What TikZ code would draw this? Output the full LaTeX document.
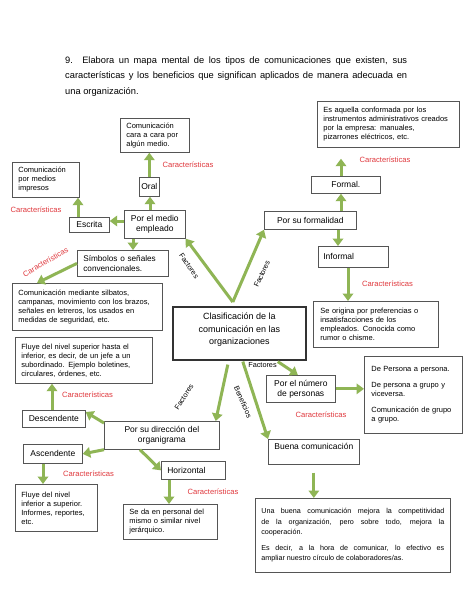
\documentclass[tikz,border=0pt]{standalone}
\usepackage{fontspec}
\setmainfont{Liberation Sans}
\usetikzlibrary{arrows.meta}
\definecolor{garrow}{HTML}{8FB555}
\definecolor{boxc}{HTML}{555555}
\definecolor{centc}{HTML}{333333}
\definecolor{redc}{HTML}{E0393E}
\begin{document}
\begin{tikzpicture}[x=1pt,y=-1pt,
  box/.style={draw=boxc, line width=0.7pt, fill=white, anchor=north west, inner xsep=6pt, inner ysep=0pt, align=left, font=\fontsize{7.5}{9}\selectfont},
  cat/.style={draw=boxc, line width=0.7pt, fill=white, anchor=north west, inner sep=0pt, align=center, font=\fontsize{8.5}{10}\selectfont},
  link/.style={draw=garrow, line width=3pt, -{Triangle[length=7.5pt,width=10.5pt]}},
  carac/.style={text=redc, font=\fontsize{7.6}{9}\selectfont, inner sep=0pt},
  flab/.style={font=\fontsize{7.3}{9}\selectfont, inner sep=0pt},
]
\useasboundingbox (0,0) rectangle (474,613);
\fill[white] (0,0) rectangle (474,613);

% title
\node[anchor=north west, inner sep=0pt, text width=342pt, align=justify, font=\fontsize{9.3}{15.5}\selectfont] (title) at (65,56.5) {9. Elabora un mapa mental de los tipos de comunicaciones que existen, sus\linebreak características y los beneficios que significan aplicados de manera adecuada en\linebreak una organización.};

% centre
\node[draw=centc, line width=1.6pt, fill=white, anchor=north west, inner sep=0pt, minimum width=133pt, minimum height=53pt, align=center, font=\fontsize{9}{12.5}\selectfont] (clasif) at (172,306) {Clasificación de la\\comunicación en las\\organizaciones\\[-4pt]\mbox{}};

% left upper branch
\node[box, text width=57pt, minimum height=34pt] (oralbox) at (120,118) {\mbox{Comunicación}\\\mbox{cara a cara por}\\\mbox{algún medio.}};
\node[cat, minimum width=20pt, minimum height=19pt] (oral) at (139,177) {Oral};
\node[box, text width=55pt, minimum height=35pt] (escbox) at (12,162) {\mbox{Comunicación}\\\mbox{por medios}\\\mbox{impresos}};
\node[cat, minimum width=40pt, minimum height=15pt] (escrita) at (69,217) {Escrita};
\node[cat, minimum width=61pt, minimum height=28pt] (medio) at (124,210) {Por el medio\\empleado};
\node[box, font=\fontsize{8.2}{10}\selectfont, text width=79pt, minimum height=26pt] (simb) at (77,250) {\mbox{Símbolos o señales}\\\mbox{convencionales.}};
\node[box, text width=138pt, minimum height=47pt] (simbdesc) at (12,283) {\mbox{Comunicación mediante silbatos,}\\\mbox{campanas, movimiento con los brazos,}\\\mbox{señales en letreros, los usados en}\\\mbox{medidas de seguridad, etc.}};

% left lower branch
\node[box, text width=125pt, minimum height=46pt] (descdesc) at (15,337) {\mbox{Fluye del nivel superior hasta el}\\\mbox{inferior, es decir, de un jefe a un}\\\mbox{subordinado. Ejemplo boletines,}\\\mbox{circulares, órdenes, etc.}};
\node[cat, minimum width=63pt, minimum height=17pt] (desc) at (22,410) {Descendente};
\node[cat, minimum width=115pt, minimum height=28pt] (dir) at (104,421) {Por su dirección del\\organigrama};
\node[cat, minimum width=59pt, minimum height=19pt] (asc) at (23,444) {Ascendente};
\node[box, text width=70pt, minimum height=47pt] (ascdesc) at (15,484) {\mbox{Fluye del nivel}\\\mbox{inferior a superior.}\\\mbox{Informes, reportes,}\\\mbox{etc.}};
\node[box, font=\fontsize{8.5}{10}\selectfont, text width=52pt, minimum height=18pt] (horiz) at (161,461) {Horizontal};
\node[box, text width=82pt, minimum height=35pt] (horizdesc) at (123,504) {\mbox{Se da en personal del}\\\mbox{mismo o similar nivel}\\\mbox{jerárquico.}};

% right upper branch
\node[box, text width=130pt, minimum height=46pt] (formaldesc) at (317,101) {\mbox{Es aquella conformada por los}\\\mbox{instrumentos administrativos creados}\\\mbox{por la empresa: manuales,}\\\mbox{pizarrones eléctricos, etc.}};
\node[cat, minimum width=69pt, minimum height=17pt] (formal) at (311,176) {Formal.};
\node[cat, minimum width=92pt, minimum height=18pt] (formalidad) at (264,211) {Por su formalidad};
\node[box, font=\fontsize{8.5}{10}\selectfont, inner xsep=5pt, text width=60pt, minimum height=21pt] (informal) at (318,246) {Informal};
\node[box, inner xsep=7pt, text width=111pt, minimum height=46pt] (infdesc) at (313,301) {\mbox{Se origina por preferencias o}\\\mbox{insatisfacciones de los}\\\mbox{empleados. Conocida como}\\\mbox{rumor o chisme.}};

% right lower branch
\node[cat, minimum width=69pt, minimum height=27pt] (num) at (266,375) {Por el número\\de personas};
\node[box, inner xsep=7pt, text width=84pt, minimum height=77pt] (numdesc) at (364,356) {\mbox{De Persona a persona.}\\[7.5pt]\mbox{De persona a grupo y}\\\mbox{viceversa.}\\[7pt]\mbox{Comunicación de grupo}\\\mbox{a grupo.}};
\node[cat, minimum width=91pt, text height=10.5pt, text depth=14.5pt] (buena) at (268,439) {Buena comunicación};
\node[box, font=\fontsize{7.2}{10.5}\selectfont, align=justify, text width=183pt, minimum height=74pt] (bigbox) at (255,498) {Una buena comunicación mejora la competitividad\linebreak de la organización, pero sobre todo, mejora la\linebreak cooperación.\par\vspace{5pt}Es decir, a la hora de comunicar, lo efectivo es\linebreak ampliar nuestro círculo de colaboradores/as.\par\vspace*{9pt}};

% labels
\node[carac] (c1) at (188,165) {Características};
\node[carac] (c2) at (36,210) {Características};
\node[carac, rotate=30] (c3) at (45.5,262) {Características};
\node[carac] (c4) at (87.5,395) {Características};
\node[carac] (c5) at (88.5,474) {Características};
\node[carac] (c6) at (213,492) {Características};
\node[carac] (c7) at (385,160) {Características};
\node[carac] (c8) at (387.5,284) {Características};
\node[carac] (c9) at (321,415) {Características};

\node[flab, rotate=-55] (f1) at (189,266) {Factores};
\node[flab, rotate=65] (f2) at (262,274) {Factores};
\node[flab] (f3) at (262.5,365) {Factores};
\node[flab, rotate=57] (f4) at (184,397) {Factores};
\node[flab, rotate=-66] (f5) at (243,402) {Beneficios};

% helper coordinates
\coordinate (ap) at ([xshift=-6.5pt,yshift=4pt]clasif.north);
\coordinate (m1) at ([xshift=26pt]medio.north west);
\coordinate (o1) at (oral.north);
\coordinate (m2) at ([yshift=-11pt]medio.north west);
\coordinate (e1) at ([xshift=9pt]escrita.north west);
\coordinate (m3) at ([xshift=9pt]medio.south west);
\coordinate (fo1) at ([xshift=77pt]formalidad.north west);
\coordinate (fo2) at ([xshift=74pt]formalidad.south west);
\coordinate (fm1) at ([xshift=30pt]formal.north west);
\coordinate (in1) at ([xshift=30pt]informal.south west);
\coordinate (d1) at ([xshift=30pt]desc.north west);
\coordinate (a1) at ([xshift=20pt]asc.south west);
\coordinate (h1) at ([xshift=8pt]horiz.south west);
\coordinate (cs1) at ([xshift=-11.5pt,yshift=-4pt]clasif.south);
\coordinate (cs2) at ([xshift=3.5pt,yshift=-1pt]clasif.south);
\coordinate (cs3) at ([xshift=38.5pt,yshift=-1pt]clasif.south);

% connectors
\draw[link] (ap) -- (medio.south east);
\draw[link] (ap) -- (formalidad.south west);
\draw[link] (m1) -- (m1 |- oral.south);
\draw[link] (o1) -- (o1 |- oralbox.south);
\draw[link] (m2) -- (m2 -| escrita.east);
\draw[link] (e1) -- (e1 |- escbox.south);
\draw[link] (m3) -- (m3 |- simb.north);
\draw[link] (simb.west) -- ([xshift=25pt]simbdesc.north west);
\draw[link] (fo1) -- (fo1 |- formal.south);
\draw[link, shorten >=11pt] (fm1) -- (fm1 |- formaldesc.south);
\draw[link] (fo2) -- (fo2 |- informal.north);
\draw[link] (in1) -- (in1 |- infdesc.north);
\draw[link] (cs1) -- ([xshift=-4pt]dir.north east);
\draw[link] (cs2) -- (buena.north west);
\draw[link] (cs3) -- ([xshift=-3pt]num.north);
\draw[link] (num.east) -- (num.east -| numdesc.west);
\draw[link, shorten <=8pt] (buena.south) -- (buena.south |- bigbox.north);
\draw[link] ([yshift=-2pt]dir.north west) -- ([yshift=-2pt]desc.north east);
\draw[link] (dir.south west) -- (asc.east);
\draw[link] ([xshift=36pt]dir.south west) -- (horiz.west);
\draw[link] (d1) -- (d1 |- descdesc.south);
\draw[link] (a1) -- (a1 |- ascdesc.north);
\draw[link] (h1) -- (h1 |- horizdesc.north);
\end{tikzpicture}
\end{document}
